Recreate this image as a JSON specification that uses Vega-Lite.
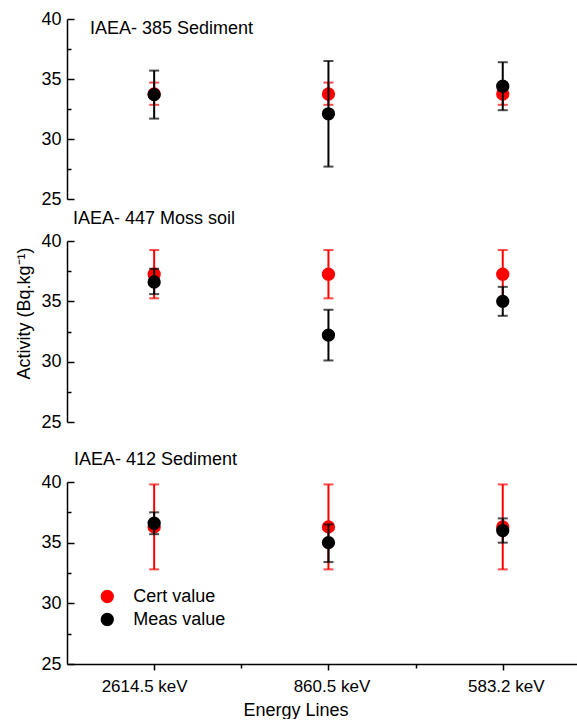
{
  "$schema": "https://vega.github.io/schema/vega-lite/v6.json",
  "autosize": {"type": "pad"},
  "padding": {"left": 14, "top": 10, "right": 0, "bottom": 0},
  "config": {
    "font": "Liberation Sans",
    "view": {"stroke": null},
    "axis": {"domainColor": "black", "tickColor": "black", "labelColor": "black", "titleColor": "black", "domainWidth": 1.5, "tickWidth": 1.5, "grid": false, "labelFontSize": 17, "titleFontSize": 18, "titleFontWeight": "normal", "labelFont": "Liberation Sans", "titleFont": "Liberation Sans"},
    "title": {"font": "Liberation Sans", "fontSize": 18, "fontWeight": "normal", "anchor": "start", "frame": "group", "color": "black", "baseline": "alphabetic", "offset": 0},
    "legend": {"labelFont": "Liberation Sans"}
  },
  "data": {"values": [
    {"panel": "IAEA- 385 Sediment", "energy": "2614.5 keV", "line": 1, "series": "Cert value", "value": 33.75, "lo": 32.85, "hi": 34.7},
    {"panel": "IAEA- 385 Sediment", "energy": "860.5 keV", "line": 2, "series": "Cert value", "value": 33.75, "lo": 32.85, "hi": 34.7},
    {"panel": "IAEA- 385 Sediment", "energy": "583.2 keV", "line": 3, "series": "Cert value", "value": 33.75, "lo": 32.85, "hi": 34.7},
    {"panel": "IAEA- 385 Sediment", "energy": "2614.5 keV", "line": 1, "series": "Meas value", "value": 33.7, "lo": 31.7, "hi": 35.7},
    {"panel": "IAEA- 385 Sediment", "energy": "860.5 keV", "line": 2, "series": "Meas value", "value": 32.1, "lo": 27.7, "hi": 36.5},
    {"panel": "IAEA- 385 Sediment", "energy": "583.2 keV", "line": 3, "series": "Meas value", "value": 34.4, "lo": 32.4, "hi": 36.4},
    {"panel": "IAEA- 447 Moss soil", "energy": "2614.5 keV", "line": 1, "series": "Cert value", "value": 37.25, "lo": 35.25, "hi": 39.25},
    {"panel": "IAEA- 447 Moss soil", "energy": "860.5 keV", "line": 2, "series": "Cert value", "value": 37.25, "lo": 35.25, "hi": 39.25},
    {"panel": "IAEA- 447 Moss soil", "energy": "583.2 keV", "line": 3, "series": "Cert value", "value": 37.25, "lo": 35.25, "hi": 39.25},
    {"panel": "IAEA- 447 Moss soil", "energy": "2614.5 keV", "line": 1, "series": "Meas value", "value": 36.6, "lo": 35.6, "hi": 37.7},
    {"panel": "IAEA- 447 Moss soil", "energy": "860.5 keV", "line": 2, "series": "Meas value", "value": 32.2, "lo": 30.1, "hi": 34.3},
    {"panel": "IAEA- 447 Moss soil", "energy": "583.2 keV", "line": 3, "series": "Meas value", "value": 35.0, "lo": 33.8, "hi": 36.2},
    {"panel": "IAEA- 412 Sediment", "energy": "2614.5 keV", "line": 1, "series": "Cert value", "value": 36.3, "lo": 32.8, "hi": 39.8},
    {"panel": "IAEA- 412 Sediment", "energy": "860.5 keV", "line": 2, "series": "Cert value", "value": 36.3, "lo": 32.8, "hi": 39.8},
    {"panel": "IAEA- 412 Sediment", "energy": "583.2 keV", "line": 3, "series": "Cert value", "value": 36.3, "lo": 32.8, "hi": 39.8},
    {"panel": "IAEA- 412 Sediment", "energy": "2614.5 keV", "line": 1, "series": "Meas value", "value": 36.6, "lo": 35.7, "hi": 37.5},
    {"panel": "IAEA- 412 Sediment", "energy": "860.5 keV", "line": 2, "series": "Meas value", "value": 35.0, "lo": 33.4, "hi": 36.5},
    {"panel": "IAEA- 412 Sediment", "energy": "583.2 keV", "line": 3, "series": "Meas value", "value": 36.0, "lo": 35.0, "hi": 37.0}
  ]},
  "resolve": {"scale": {"color": "shared"}, "legend": {"color": "shared"}},
  "bounds": "flush",
  "spacing": 42,
  "vconcat": [
    {
      "width": 510, "height": 180,
      "title": {"text": "IAEA- 385 Sediment", "dx": 23, "dy": 31.5},
      "transform": [{"filter": "datum.panel === 'IAEA- 385 Sediment'"}],
      "encoding": {
        "x": {"field": "line", "type": "quantitative", "scale": {"domain": [0.5, 3.426], "nice": false, "zero": false}, "axis": null},
        "y": {"field": "value", "type": "quantitative", "scale": {"domain": [25, 40], "nice": false, "zero": false},
              "axis": {"title": null, "labelFontSize": 18, "values": [25, 27.5, 30, 32.5, 35, 37.5, 40], "labelExpr": "datum.value % 5 === 0 ? datum.label : ''", "tickSize": {"condition": {"test": "datum.value % 5 === 0", "value": -7}, "value": -4}, "labelPadding": 13}}
      },
      "layer": [
        {"transform": [{"filter": "datum.series === 'Cert value'"}], "mark": {"type": "errorbar", "orient": "vertical", "color": "#ff0000", "thickness": 2, "ticks": {"size": 10, "thickness": 2, "color": "#ff0000"}}, "encoding": {"y": {"field": "lo", "type": "quantitative"}, "y2": {"field": "hi"}}},
        {"transform": [{"filter": "datum.series === 'Cert value'"}], "mark": {"type": "point", "filled": true, "size": 177, "opacity": 1, "shape": "circle"}, "encoding": {"color": {"field": "series", "type": "nominal", "scale": {"domain": ["Cert value", "Meas value"], "range": ["#ff0000", "#000000"]}, "legend": {"orient": "none", "legendX": 31.3, "legendY": 568.5, "title": null, "labelFontSize": 18, "symbolSize": 177, "symbolType": "circle", "labelOffset": 17, "rowPadding": 5, "padding": 0, "symbolStrokeWidth": 0}}}},
        {"transform": [{"filter": "datum.series === 'Meas value'"}], "mark": {"type": "errorbar", "orient": "vertical", "color": "#000000", "thickness": 2, "ticks": {"size": 10, "thickness": 2, "color": "#000000"}}, "encoding": {"y": {"field": "lo", "type": "quantitative"}, "y2": {"field": "hi"}}},
        {"transform": [{"filter": "datum.series === 'Meas value'"}], "mark": {"type": "point", "filled": true, "size": 177, "opacity": 1, "shape": "circle"}, "encoding": {"color": {"field": "series", "type": "nominal"}}}
      ]
    },
    {
      "width": 510, "height": 199,
      "title": {"text": "IAEA- 447 Moss soil", "dx": 6, "dy": -0.5},
      "transform": [{"filter": "datum.panel === 'IAEA- 447 Moss soil'"}],
      "encoding": {
        "x": {"field": "line", "type": "quantitative", "scale": {"domain": [0.5, 3.426], "nice": false, "zero": false}, "axis": null},
        "y": {"field": "value", "type": "quantitative", "scale": {"domain": [25, 40], "range": [181, 0], "nice": false, "zero": false},
              "axis": {"title": "Activity (Bq.kg⁻¹)", "titleAngle": -90, "titleX": -38, "titleY": 72, "titleAlign": "center", "titleBaseline": "alphabetic", "labelFontSize": 18, "values": [25, 27.5, 30, 32.5, 35, 37.5, 40], "labelExpr": "datum.value % 5 === 0 ? datum.label : ''", "tickSize": {"condition": {"test": "datum.value % 5 === 0", "value": -7}, "value": -4}, "labelPadding": 13}}
      },
      "layer": [
        {"transform": [{"filter": "datum.series === 'Cert value'"}], "mark": {"type": "errorbar", "orient": "vertical", "color": "#ff0000", "thickness": 2, "ticks": {"size": 10, "thickness": 2, "color": "#ff0000"}}, "encoding": {"y": {"field": "lo", "type": "quantitative"}, "y2": {"field": "hi"}}},
        {"transform": [{"filter": "datum.series === 'Cert value'"}], "mark": {"type": "point", "filled": true, "size": 177, "opacity": 1, "shape": "circle"}, "encoding": {"color": {"field": "series", "type": "nominal"}}},
        {"transform": [{"filter": "datum.series === 'Meas value'"}], "mark": {"type": "errorbar", "orient": "vertical", "color": "#000000", "thickness": 2, "ticks": {"size": 10, "thickness": 2, "color": "#000000"}}, "encoding": {"y": {"field": "lo", "type": "quantitative"}, "y2": {"field": "hi"}}},
        {"transform": [{"filter": "datum.series === 'Meas value'"}], "mark": {"type": "point", "filled": true, "size": 177, "opacity": 1, "shape": "circle"}, "encoding": {"color": {"field": "series", "type": "nominal"}}}
      ]
    },
    {
      "width": 510, "height": 182,
      "title": {"text": "IAEA- 412 Sediment", "dx": 7, "dy": -0.5},
      "transform": [{"filter": "datum.panel === 'IAEA- 412 Sediment'"}],
      "encoding": {
        "x": {"field": "line", "type": "quantitative", "scale": {"domain": [0.5, 3.426], "nice": false, "zero": false},
              "axis": {"title": "Energy Lines", "titleX": 228.5, "titleY": 51, "titleAlign": "center", "titleBaseline": "alphabetic", "values": [1, 1.5, 2, 2.5, 3], "labelExpr": "datum.value == 1 ? '2614.5 keV' : datum.value == 2 ? '860.5 keV' : datum.value == 3 ? '583.2 keV' : ''", "tickSize": {"condition": {"test": "datum.value % 1 === 0", "value": 6}, "value": 4}, "labelOffset": {"condition": {"test": "datum.value === 1", "value": -10}, "value": 3}, "labelPadding": 8, "labelFlush": false, "labelOverlap": false}},
        "y": {"field": "value", "type": "quantitative", "scale": {"domain": [25, 40], "nice": false, "zero": false},
              "axis": {"title": null, "labelFontSize": 18, "values": [25, 27.5, 30, 32.5, 35, 37.5, 40], "labelExpr": "datum.value % 5 === 0 ? datum.label : ''", "tickSize": {"condition": {"test": "datum.value % 5 === 0", "value": -7}, "value": -4}, "labelPadding": 13}}
      },
      "layer": [
        {"transform": [{"filter": "datum.series === 'Cert value'"}], "mark": {"type": "errorbar", "orient": "vertical", "color": "#ff0000", "thickness": 2, "ticks": {"size": 10, "thickness": 2, "color": "#ff0000"}}, "encoding": {"y": {"field": "lo", "type": "quantitative"}, "y2": {"field": "hi"}}},
        {"transform": [{"filter": "datum.series === 'Cert value'"}], "mark": {"type": "point", "filled": true, "size": 177, "opacity": 1, "shape": "circle"}, "encoding": {"color": {"field": "series", "type": "nominal"}}},
        {"transform": [{"filter": "datum.series === 'Meas value'"}], "mark": {"type": "errorbar", "orient": "vertical", "color": "#000000", "thickness": 2, "ticks": {"size": 10, "thickness": 2, "color": "#000000"}}, "encoding": {"y": {"field": "lo", "type": "quantitative"}, "y2": {"field": "hi"}}},
        {"transform": [{"filter": "datum.series === 'Meas value'"}], "mark": {"type": "point", "filled": true, "size": 177, "opacity": 1, "shape": "circle"}, "encoding": {"color": {"field": "series", "type": "nominal"}}}
      ]
    }
  ]
}
